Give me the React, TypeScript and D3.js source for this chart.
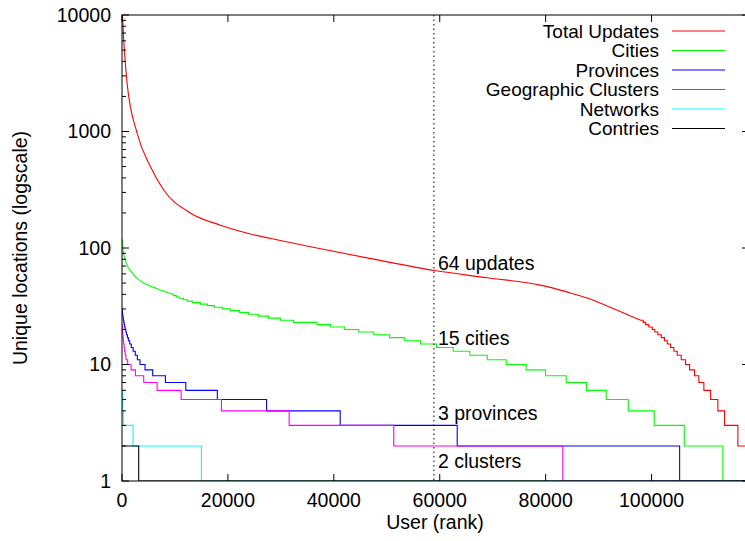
import React from "react";
import * as d3 from "d3";

const W = 745;
const H = 541;
const plot = { left: 122, right: 749, top: 15, bottom: 481 };
const FONT = "'Liberation Sans', Arial, Helvetica, sans-serif";
const FS = 19.5;
const LEGEND_FS = 19;

const xMax = 118400;
const xTicks = [0, 20000, 40000, 60000, 80000, 100000];
const yTicks = [1, 10, 100, 1000, 10000];

const seriesNames = ["Total Updates", "Cities", "Provinces", "Geographic Clusters", "Networks", "Contries"];
const seriesColors = ["#ff0000", "#00ff00", "#0000ff", "#ff00ff", "#00ffff", "#000000"];

// smooth part of the curves: [rank, value]
const updatesSmooth: [number, number][] = [
  [0, 10000], [130, 9000], [320, 6100], [960, 2600], [2850, 970], [5360, 500], [7880, 315],
  [12900, 200], [18600, 157], [24250, 132], [29900, 116], [35600, 102.5], [47000, 81], [59000, 64],
  [69000, 55.5], [79000, 48], [84000, 42], [88000, 37], [91500, 32], [94500, 28], [97000, 25], [97922, 24],
];
// stepped part: [rank where level starts, value]
const updatesSteps: [number, number][] = [
  [98432, 23], [98867, 22], [99490, 21], [100130, 20], [100620, 19], [101190, 18], [101830, 17],
  [102450, 16], [102970, 15], [103590, 14], [104210, 13], [104850, 12], [105610, 11], [106420, 10],
  [107180, 9], [108120, 8], [108930, 7], [109880, 6], [111150, 5], [112520, 4], [113790, 3], [116300, 2],
];

const citiesSmooth: [number, number][] = [
  [0, 120], [150, 100], [400, 85], [900, 72], [1800, 62], [3000, 54], [4500, 49], [6500, 45], [9709, 40],
];
const citiesSteps: [number, number][] = [
  [9709, 39], [10276, 38], [10843, 37], [11598, 36], [12353, 35], [13298, 34], [14809, 33], [16131, 32],
  [17453, 31], [18965, 30], [20476, 29], [22176, 28], [23876, 27], [25765, 26], [27654, 25], [29921, 24],
  [32376, 23], [36853, 22], [39365, 21], [42010, 20], [44711, 19], [47544, 18], [50510, 17], [53400, 16],
  [56366, 15], [59388, 14], [62543, 13], [65678, 12], [68965, 11], [72554, 10], [76332, 9], [79977, 8],
  [83888, 7], [87722, 6], [91443, 5], [95599, 4], [100510, 3], [106177, 2], [113468, 1],
];

const provincesSteps: [number, number][] = [
  [0, 30], [30, 29], [60, 28], [100, 27], [150, 26], [200, 25], [260, 24], [330, 23], [410, 22], [500, 21],
  [600, 20], [720, 19], [860, 18], [1020, 17], [1200, 16], [1450, 15], [1750, 14], [2100, 13], [2500, 12],
  [2900, 11], [3400, 10], [4350, 9], [5800, 8], [8200, 7], [12050, 6], [18000, 5], [27300, 4], [41200, 3],
  [63300, 2], [105300, 1],
];

const clustersSteps: [number, number][] = [
  [0, 22], [30, 21], [60, 20], [100, 19], [150, 18], [200, 17], [250, 16], [320, 15], [400, 14], [500, 13],
  [600, 12], [750, 11], [1077, 10], [1719, 9], [2531, 8], [4099, 7], [6630, 6], [11163, 5], [18776, 4],
  [31564, 3], [51322, 2], [83245, 1],
];

const networksSteps: [number, number][] = [[0, 6], [60, 5], [150, 4], [250, 3], [2100, 2], [15000, 1]];
const countriesSteps: [number, number][] = [[0, 2], [3150, 1]];

const markerRank = 58900;
const annotations = [
  { text: "64 updates", value: 64, dy: -7 },
  { text: "15 cities", value: 15, dy: -6 },
  { text: "3 provinces", value: 3, dy: -12 },
  { text: "2 clusters", value: 2, dy: 15 },
];

export default function App() {
  const x = d3.scaleLinear().domain([0, xMax]).range([plot.left, plot.right]);
  const y = d3.scaleLog().domain([1, 10000]).range([plot.bottom, plot.top]);

  const smoothLine = d3
    .line<[number, number]>()
    .x((d) => x(d[0]))
    .y((d) => y(d[1]))
    .curve(d3.curveMonotoneX);
  const stepLine = d3
    .line<[number, number]>()
    .x((d) => x(d[0]))
    .y((d) => y(d[1]))
    .curve(d3.curveStepAfter);

  const buildPath = (smooth: [number, number][] | null, steps: [number, number][]) => {
    const last = steps[steps.length - 1];
    const pts: [number, number][] = [...(smooth ? [smooth[smooth.length - 1]] : []), ...steps, [xMax, last[1]]];
    return (smooth ? smoothLine(smooth) || "" : "") + (stepLine(pts) || "");
  };

  const paths = [
    buildPath(updatesSmooth, updatesSteps),
    buildPath(citiesSmooth, citiesSteps),
    buildPath(null, provincesSteps),
    buildPath(null, clustersSteps),
    buildPath(null, networksSteps),
    buildPath(null, countriesSteps),
  ];

  const minorTicks: number[] = [];
  for (let e = 0; e < 4; e++) {
    for (let m = 2; m <= 9; m++) minorTicks.push(m * Math.pow(10, e));
  }

  const legendX = 659;
  const legendY0 = 31;
  const legendDy = 19.5;

  return (
    <svg
      width={W}
      height={H}
      style={{ position: "absolute", left: 0, top: 0, background: "#fff" }}
      fontFamily={FONT}
      fontSize={FS}
    >
      <defs>
        <clipPath id="plotclip">
          <rect x={plot.left} y={plot.top} width={plot.right - plot.left} height={plot.bottom - plot.top} />
        </clipPath>
      </defs>
      <rect x={0} y={0} width={W} height={H} fill="#fff" />

      <g clipPath="url(#plotclip)" fill="none" strokeWidth={1.1}>
        {paths.map((p, i) => (
          <path key={i} d={p} stroke={seriesColors[i]} />
        ))}
      </g>

      {/* marker line */}
      <line
        x1={x(markerRank)}
        x2={x(markerRank)}
        y1={plot.top}
        y2={plot.bottom}
        stroke="#000"
        strokeWidth={1}
        strokeDasharray="1.5,3"
      />

      {annotations.map((a, i) => (
        <text key={i} x={x(markerRank) + 4} y={y(a.value) + a.dy} dy="0.35em" fill="#000">
          {a.text}
        </text>
      ))}

      {/* border */}
      <rect
        x={plot.left}
        y={plot.top}
        width={plot.right - plot.left}
        height={plot.bottom - plot.top}
        fill="none"
        stroke="#000"
        strokeWidth={1}
      />

      {/* ticks */}
      <g stroke="#000" strokeWidth={1}>
        {yTicks.map((t) => (
          <g key={t}>
            <line x1={plot.left} x2={plot.left + 7} y1={y(t)} y2={y(t)} />
            <line x1={plot.right} x2={plot.right - 7} y1={y(t)} y2={y(t)} />
          </g>
        ))}
        {minorTicks.map((t) => (
          <g key={"m" + t}>
            <line x1={plot.left} x2={plot.left + 4} y1={y(t)} y2={y(t)} />
            <line x1={plot.right} x2={plot.right - 4} y1={y(t)} y2={y(t)} />
          </g>
        ))}
        {xTicks.map((t) => (
          <g key={"x" + t}>
            <line x1={x(t)} x2={x(t)} y1={plot.bottom} y2={plot.bottom - 7} />
            <line x1={x(t)} x2={x(t)} y1={plot.top} y2={plot.top + 7} />
          </g>
        ))}
      </g>

      {yTicks.map((t) => (
        <text key={"yl" + t} x={plot.left - 11} y={y(t)} dy="0.35em" textAnchor="end" fill="#000">
          {String(t)}
        </text>
      ))}
      {xTicks.map((t) => (
        <text key={"xl" + t} x={x(t)} y={500} dy="0.35em" textAnchor="middle" fill="#000">
          {String(t)}
        </text>
      ))}

      <text x={435} y={522} dy="0.35em" textAnchor="middle" fill="#000">
        User (rank)
      </text>
      <text transform={`translate(20,248) rotate(-90)`} dy="0.35em" textAnchor="middle" fill="#000">
        Unique locations (logscale)
      </text>

      {/* legend */}
      {seriesNames.map((n, i) => (
        <g key={n}>
          <text
            x={legendX}
            y={legendY0 + i * legendDy}
            dy="0.35em"
            textAnchor="end"
            fill="#000"
            fontSize={LEGEND_FS}
          >
            {n}
          </text>
          <line
            x1={672}
            x2={725}
            y1={legendY0 + i * legendDy}
            y2={legendY0 + i * legendDy}
            stroke={seriesColors[i]}
            strokeWidth={1.1}
          />
        </g>
      ))}
    </svg>
  );
}
